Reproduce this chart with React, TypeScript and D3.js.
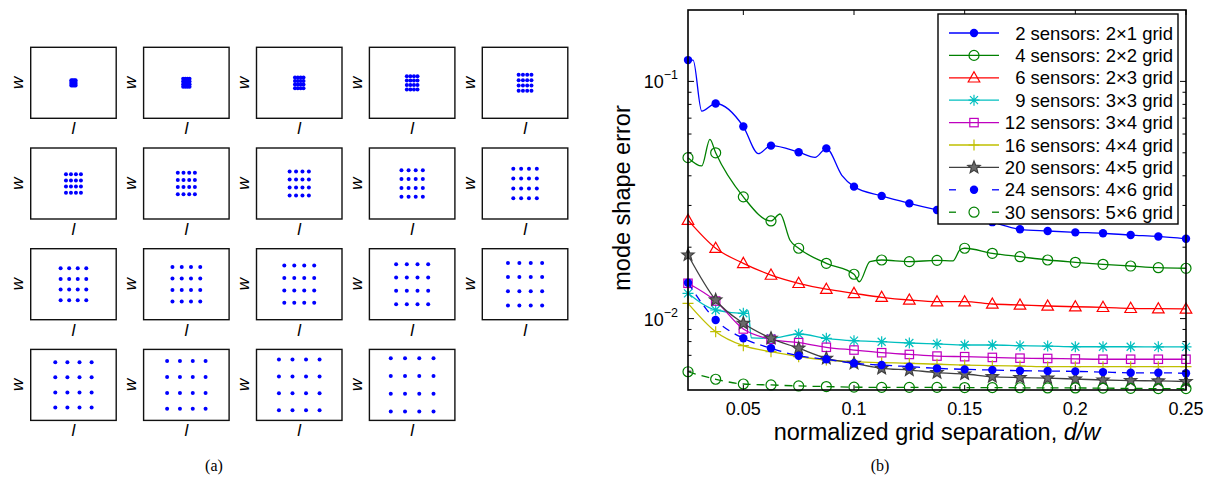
import React, { useEffect, useRef } from 'react';
import * as d3 from 'd3';

// normalized grid separation d/w (also one small panel per value)
const dw = [0.025, 0.0375, 0.05, 0.0625, 0.075, 0.0875, 0.1, 0.1125, 0.125, 0.1375, 0.15, 0.1625, 0.175, 0.1875, 0.2, 0.2125, 0.225, 0.2375, 0.25];

// mode shape error, one value per d/w
const err2 = [0.123, 0.0807, 0.0645, 0.0536, 0.0503, 0.0522, 0.036, 0.0329, 0.0306, 0.0287, 0.0271, 0.0255, 0.0238, 0.0234, 0.0231, 0.0229, 0.0225, 0.0222, 0.0217];
const err4 = [0.0477, 0.05, 0.0326, 0.0258, 0.0198, 0.0171, 0.01538, 0.01766, 0.01738, 0.0176, 0.0198, 0.01885, 0.01824, 0.01766, 0.01727, 0.01694, 0.01666, 0.01639, 0.0163];
const err6 = [0.026, 0.0198, 0.0171, 0.01526, 0.01409, 0.0133, 0.01278, 0.0123, 0.01198, 0.01178, 0.01178, 0.01152, 0.01141, 0.0113, 0.01122, 0.01116, 0.01105, 0.01101, 0.01098];
const err9 = [0.01278, 0.01087, 0.01053, 0.00826, 0.00861, 0.00826, 0.00807, 0.00799, 0.00789, 0.00782, 0.00774, 0.00774, 0.00769, 0.00766, 0.00761, 0.00761, 0.00761, 0.0076, 0.0076];
const err12 = [0.01409, 0.01186, 0.00904, 0.00818, 0.00792, 0.00757, 0.00737, 0.00718, 0.00706, 0.00695, 0.00691, 0.00686, 0.00681, 0.00679, 0.00676, 0.00674, 0.00674, 0.00674, 0.00674];
const err16 = [0.0116, 0.00881, 0.00769, 0.00725, 0.00691, 0.00669, 0.00658, 0.00652, 0.00648, 0.00642, 0.00637, 0.00633, 0.00631, 0.00627, 0.00627, 0.00627, 0.00627, 0.00627, 0.00627];
const err20 = [0.01854, 0.01198, 0.00955, 0.00826, 0.0075, 0.0068, 0.00648, 0.00617, 0.00607, 0.00592, 0.00584, 0.00569, 0.00564, 0.00561, 0.00556, 0.00551, 0.00548, 0.00546, 0.00543];
const err24 = [0.01417, 0.00986, 0.00826, 0.0075, 0.00697, 0.00674, 0.00648, 0.00637, 0.00627, 0.00617, 0.00611, 0.00607, 0.00603, 0.00601, 0.00599, 0.00595, 0.00591, 0.00591, 0.00588];
const err30 = [0.00597, 0.00555, 0.0053, 0.00525, 0.0052, 0.00517, 0.00514, 0.00513, 0.00513, 0.00513, 0.00512, 0.00512, 0.00511, 0.0051, 0.0051, 0.00509, 0.00508, 0.00507, 0.00507];

// extra points on the curves between markers (bumps and dips)
const bumps2 = [[0.0273, 0.123], [0.0312, 0.075], [0.0568, 0.0496], [0.0824, 0.0478], [0.0945, 0.0402]];
const bumps4 = [[0.0312, 0.044], [0.0349, 0.057], [0.0666, 0.0276], [0.0711, 0.0214], [0.1024, 0.0143], [0.1072, 0.0174], [0.1447, 0.0175], [0.1479, 0.0195]];
const bumps9 = [[0.0522, 0.0108], [0.0536, 0.0083]];

const labels = [
  '2 sensors: 2\u00d71 grid',
  '4 sensors: 2\u00d72 grid',
  '6 sensors: 2\u00d73 grid',
  '9 sensors: 3\u00d73 grid',
  '12 sensors: 3\u00d74 grid',
  '16 sensors: 4\u00d74 grid',
  '20 sensors: 4\u00d75 grid',
  '24 sensors: 4\u00d76 grid',
  '30 sensors: 5\u00d76 grid',
];
const values = [err2, err4, err6, err9, err12, err16, err20, err24, err30];
const bumps = [bumps2, bumps4, [], bumps9, [], [], [], [], []];

const xTicks = [0.05, 0.1, 0.15, 0.2, 0.25];
const yMajor = [0.01, 0.1];
const yMinor = [0.006, 0.007, 0.008, 0.009, 0.02, 0.03, 0.04, 0.05, 0.06, 0.07, 0.08, 0.09];
const gridOffsets = [-1.5, -0.5, 0.5, 1.5];

const styles = [
  { color: '#0000ff', marker: 'dot', dash: false },
  { color: '#008000', marker: 'circle', dash: false },
  { color: '#ff0000', marker: 'triangle', dash: false },
  { color: '#00bfbf', marker: 'asterisk', dash: false },
  { color: '#bf00bf', marker: 'square', dash: false },
  { color: '#bfbf00', marker: 'plus', dash: false },
  { color: '#404040', marker: 'star', dash: false },
  { color: '#0000ff', marker: 'dot', dash: true },
  { color: '#008000', marker: 'circle', dash: true },
];

const FONT = '"Liberation Sans", Arial, Helvetica, sans-serif';

function starPath(ro: number, ri: number) {
  const pts = d3.range(10).map(i => {
    const a = -Math.PI / 2 + (i * Math.PI) / 5;
    const r = i % 2 === 0 ? ro : ri;
    return [r * Math.cos(a), r * Math.sin(a)];
  });
  return 'M' + pts.map(p => p[0].toFixed(2) + ',' + p[1].toFixed(2)).join('L') + 'Z';
}

function addMarker(g: any, type: string, color: string) {
  if (type === 'dot') {
    g.append('circle').attr('r', 4.2).attr('fill', color);
  } else if (type === 'circle') {
    g.append('circle').attr('r', 5).attr('fill', 'none').attr('stroke', color).attr('stroke-width', 1.2);
  } else if (type === 'triangle') {
    g.append('path').attr('d', 'M0,-6L5.8,4.2L-5.8,4.2Z').attr('fill', 'none').attr('stroke', color).attr('stroke-width', 1.2);
  } else if (type === 'asterisk') {
    g.append('path').attr('d', 'M-5.5,0H5.5M0,-5.5V5.5M-4,-4L4,4M-4,4L4,-4').attr('stroke', color).attr('stroke-width', 1.2);
  } else if (type === 'square') {
    g.append('rect').attr('x', -4.2).attr('y', -4.2).attr('width', 8.4).attr('height', 8.4).attr('fill', 'none').attr('stroke', color).attr('stroke-width', 1.2);
  } else if (type === 'plus') {
    g.append('path').attr('d', 'M-5.5,0H5.5M0,-5.5V5.5').attr('stroke', color).attr('stroke-width', 1.2);
  } else if (type === 'star') {
    g.append('path').attr('d', starPath(6.5, 2.8)).attr('fill', '#6a6a6a').attr('stroke', color).attr('stroke-width', 1.2);
  }
}

const App = () => {
  const ref = useRef<SVGSVGElement>(null);

  useEffect(() => {
    const svg = d3.select(ref.current);
    svg.selectAll('*').remove();

    // ---------- (a) sensor layouts ----------
    const panelW = 85.5, panelH = 71, pitchX = 112.9, pitchY = 100.7;
    const left = svg.append('g');
    dw.forEach((d, p) => {
      const col = p % 5, row = Math.floor(p / 5);
      const x0 = 30.7 + col * pitchX, y0 = 47.3 + row * pitchY;
      const sx = d3.scaleLinear().domain([0, 1.5]).range([x0, x0 + panelW]);
      const sy = d3.scaleLinear().domain([0, 1]).range([y0 + panelH, y0]);
      const g = left.append('g');
      g.append('rect').attr('x', x0).attr('y', y0).attr('width', panelW).attr('height', panelH)
        .attr('fill', 'none').attr('stroke', '#111').attr('stroke-width', 1.4);
      const pts: number[][] = [];
      gridOffsets.forEach(a => gridOffsets.forEach(b => pts.push([0.75 + a * d, 0.5 + b * d])));
      g.selectAll('circle.s').data(pts).enter().append('circle')
        .attr('cx', q => sx(q[0])).attr('cy', q => sy(q[1])).attr('r', 2).attr('fill', '#0000ff');
      g.append('text').attr('x', sx(0.75)).attr('y', y0 + panelH + 16).attr('text-anchor', 'middle')
        .attr('font-family', FONT).attr('font-size', 17).attr('font-style', 'italic').text('l');
      g.append('text').attr('transform', `translate(${x0 - 7.5},${y0 + panelH / 2}) rotate(-90)`)
        .attr('text-anchor', 'middle').attr('font-family', FONT).attr('font-size', 17).attr('font-style', 'italic').text('w');
    });

    svg.append('text').attr('x', 214).attr('y', 471).attr('text-anchor', 'middle')
      .attr('font-family', '"Liberation Serif", "Times New Roman", serif').attr('font-size', 16).text('(a)');
    svg.append('text').attr('x', 880).attr('y', 471).attr('text-anchor', 'middle')
      .attr('font-family', '"Liberation Serif", "Times New Roman", serif').attr('font-size', 16).text('(b)');

    // ---------- (b) mode shape error ----------
    const L = 688, R = 1186, T = 10, B = 390;
    const x = d3.scaleLinear().domain([0.025, 0.25]).range([L, R]);
    const y = d3.scaleLog().domain([0.005, 0.2]).range([B, T]);
    const plot = svg.append('g');

    const line = d3.line<number[]>().x(d => x(d[0])).y(d => y(d[1])).curve(d3.curveMonotoneX);

    values.forEach((vals, i) => {
      const st = styles[i];
      const marks = dw.map((d, k) => [d, vals[k]]);
      const all = marks.concat(bumps[i] as number[][]).sort((a, b) => a[0] - b[0]);
      plot.append('path').attr('d', line(all)).attr('fill', 'none').attr('stroke', st.color)
        .attr('stroke-width', 1.3).attr('stroke-dasharray', st.dash ? '8,6' : null);
      marks.forEach(m => {
        const g = plot.append('g').attr('transform', `translate(${x(m[0])},${y(m[1])})`);
        addMarker(g, st.marker, st.color);
      });
    });

    // axes box
    plot.append('rect').attr('x', L).attr('y', T).attr('width', R - L).attr('height', B - T)
      .attr('fill', 'none').attr('stroke', '#000').attr('stroke-width', 1.6);

    // x ticks, bottom and top, pointing inward
    const ax = plot.append('g').attr('font-family', FONT);
    xTicks.forEach(t => {
      ax.append('line').attr('x1', x(t)).attr('x2', x(t)).attr('y1', B).attr('y2', B - 5).attr('stroke', '#000');
      ax.append('line').attr('x1', x(t)).attr('x2', x(t)).attr('y1', T).attr('y2', T + 5).attr('stroke', '#000');
      ax.append('text').attr('x', x(t)).attr('y', 415).attr('text-anchor', 'middle').attr('font-size', 18).text(String(t));
    });
    yMajor.forEach(t => {
      ax.append('line').attr('x1', L).attr('x2', L + 6).attr('y1', y(t)).attr('y2', y(t)).attr('stroke', '#000');
      ax.append('line').attr('x1', R).attr('x2', R - 6).attr('y1', y(t)).attr('y2', y(t)).attr('stroke', '#000');
      const lbl = ax.append('text').attr('x', 678).attr('y', y(t) + 7).attr('text-anchor', 'end').attr('font-size', 18);
      lbl.append('tspan').text('10');
      lbl.append('tspan').attr('dy', -9).attr('font-size', 12.5).text('\u2212' + String(-Math.round(Math.log10(t))));
    });
    yMinor.forEach(t => {
      ax.append('line').attr('x1', L).attr('x2', L + 3.5).attr('y1', y(t)).attr('y2', y(t)).attr('stroke', '#000');
      ax.append('line').attr('x1', R).attr('x2', R - 3.5).attr('y1', y(t)).attr('y2', y(t)).attr('stroke', '#000');
    });

    // axis titles
    const xl = ax.append('text').attr('x', 937).attr('y', 440).attr('text-anchor', 'middle').attr('font-size', 23.5);
    xl.append('tspan').text('normalized grid separation, ');
    xl.append('tspan').attr('font-style', 'italic').text('d/w');
    ax.append('text').attr('transform', `translate(630,198) rotate(-90)`).attr('text-anchor', 'middle')
      .attr('font-size', 23.5).text('mode shape error');

    // legend
    const lg = plot.append('g').attr('font-family', FONT);
    lg.append('rect').attr('x', 938).attr('y', 14).attr('width', 240).attr('height', 210)
      .attr('fill', '#fff').attr('stroke', '#000').attr('stroke-width', 1.4);
    labels.forEach((lab, i) => {
      const st = styles[i];
      const ry = 33 + i * 22.4;
      if (st.dash) {
        lg.append('line').attr('x1', 949).attr('x2', 956).attr('y1', ry).attr('y2', ry).attr('stroke', st.color).attr('stroke-width', 1.3);
        lg.append('line').attr('x1', 992).attr('x2', 999).attr('y1', ry).attr('y2', ry).attr('stroke', st.color).attr('stroke-width', 1.3);
      } else {
        lg.append('line').attr('x1', 949).attr('x2', 999).attr('y1', ry).attr('y2', ry).attr('stroke', st.color).attr('stroke-width', 1.3);
      }
      addMarker(lg.append('g').attr('transform', `translate(974,${ry})`), st.marker, st.color);
      lg.append('text').attr('x', 1173).attr('y', ry + 6.5).attr('text-anchor', 'end').attr('font-size', 18.5).text(lab);
    });
  }, []);

  return (
    <div style={{ position: 'absolute', left: 0, top: 0 }}>
      <svg ref={ref} width={1210} height={489} style={{ display: 'block', background: '#fff' }} />
    </div>
  );
};

export default App;
